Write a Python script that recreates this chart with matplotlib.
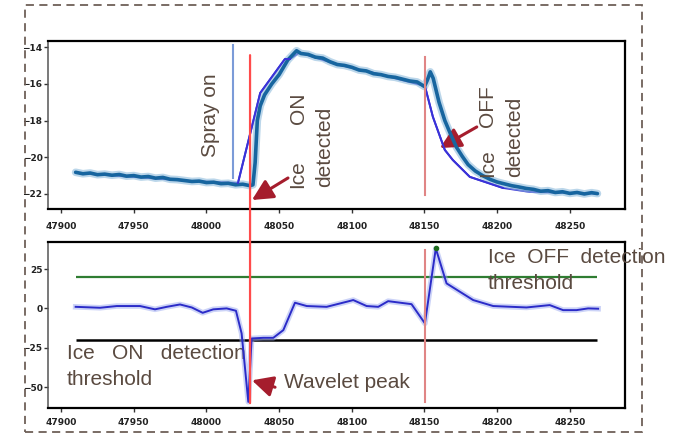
import matplotlib
matplotlib.use("Agg")
import matplotlib.pyplot as plt
from matplotlib.patches import Rectangle, ConnectionPatch

# raw temperature trace (top panel)
temp_t = [47910, 47915, 47920, 47925, 47930, 47935, 47940, 47945, 47950, 47955,
          47960, 47965, 47970, 47975, 47980, 47985, 47990, 47995, 48000, 48005,
          48010, 48015, 48020, 48025, 48030, 48032, 48033.5, 48035, 48037, 48040,
          48045, 48050, 48053, 48056, 48059, 48062, 48065, 48070, 48075, 48080,
          48085, 48090, 48095, 48100, 48105, 48110, 48115, 48120, 48125, 48130,
          48135, 48140, 48145, 48150, 48152, 48154, 48156, 48160, 48164, 48168,
          48172, 48176, 48180, 48185, 48190, 48195, 48200, 48205, 48210, 48215,
          48220, 48225, 48230, 48235, 48240, 48245, 48250, 48255, 48260, 48265, 48269]
temp_v = [-20.82, -20.90, -20.86, -20.95, -20.92, -20.98, -20.94, -21.03, -21.00, -21.08,
          -21.05, -21.14, -21.10, -21.20, -21.22, -21.27, -21.32, -21.30, -21.38, -21.36,
          -21.44, -21.42, -21.50, -21.47, -21.55, -21.50, -20.3, -18.0, -17.2, -16.6,
          -16.0, -15.5, -15.1, -14.7, -14.45, -14.2, -14.35, -14.4, -14.55, -14.6,
          -14.8, -14.95, -15.0, -15.1, -15.25, -15.3, -15.45, -15.5, -15.6, -15.65,
          -15.75, -15.85, -15.9, -16.15, -15.8, -15.35, -15.7, -17.0, -18.0, -18.75,
          -19.45, -19.95, -20.4, -20.75, -21.0, -21.2, -21.35, -21.45, -21.55, -21.62,
          -21.7, -21.75, -21.85, -21.82, -21.92, -21.88, -21.97, -21.92, -22.0, -21.93, -21.98]

# piecewise model fit
model_t = [47910, 47990, 48021.7, 48037, 48054, 48057.5, 48064, 48090, 48115,
           48150.3, 48155.8, 48164, 48169.5, 48181.2, 48203.9, 48222.5, 48269]
model_v = [-20.85, -21.3, -21.4, -16.5, -14.65, -14.65, -14.3, -14.95, -15.4,
           -16.12, -17.8, -19.6, -20.15, -21.07, -21.67, -21.89, -21.98]

# wavelet coefficient (bottom panel)
wav_t = [47910, 47926.8, 47938.3, 47954.3, 47964.6, 47972.7, 47981.8, 47989.9, 47997.4,
         48004.7, 48013.9, 48020.3, 48024.2, 48028.8, 48031.1, 48039.1, 48046, 48052.9,
         48060.9, 48069, 48082.7, 48096.4, 48101, 48110.2, 48118.2, 48125, 48141.1,
         48150.3, 48157.8, 48165.2, 48183.5, 48197.3, 48220.2, 48236.2, 48245.4,
         48254.6, 48262.6, 48269.5]
wav_v = [1.0, 0.4, 1.5, 1.5, -0.6, 1.0, 2.5, 0.6, -2.8,
         -0.6, 0.0, -1.5, -15.9, -59.4, -19.1, -18.7, -18.7, -13.8,
         3.6, 1.5, 1.0, 4.2, 5.3, 1.5, 1.0, 4.6, 2.7,
         -9.5, 38.1, 15.9, 5.3, 1.5, 0.6, 2.1, -1.1,
         -1.1, 0.0, -0.2]

thr_on = -20
thr_off = 20
thr_span = (47910, 48269)
spray_on_t = 48018.3
ice_on_t = 48030
ice_off_t = 48150.6

xticks = [47900, 47950, 48000, 48050, 48100, 48150, 48200, 48250]
yticks_top = [-14, -16, -18, -20, -22]
yticks_bot = [25, 0, -25, -50]

TXT = "#5a4a40"
ARR = "#a51d2d"
FONT = ["Liberation Sans", "DejaVu Sans"]
TICKFONT = ["Liberation Sans Narrow", "DejaVu Sans"]

fig = plt.figure(figsize=(6.87, 4.34), dpi=100)
ax1 = fig.add_axes([0.0699, 0.5184, 0.8399, 0.3871])
ax2 = fig.add_axes([0.0699, 0.0599, 0.8399, 0.3825])

for ax in (ax1, ax2):
    ax.set_xlim(47891, 48288)
    ax.set_xticks(xticks)
    for s in ax.spines.values():
        s.set_linewidth(1.6)
        s.set_color("black")
    ax.spines["left"].set_linewidth(1.1)
    ax.spines["left"].set_color("#555555")
    ax.tick_params(length=3, width=1, colors="#333333", labelsize=6.5, pad=1)
    for lab in ax.get_xticklabels():
        lab.set_family(TICKFONT)
        lab.set_fontweight("bold")
        lab.set_color("#222222")

ax1.tick_params(axis="x", pad=6)
ax2.tick_params(axis="x", pad=4)


def minus_labels(vals):
    return [str(v) if v >= 0 else "\u2212" + str(abs(v)) for v in vals]


# top panel
ax1.set_ylim(-22.82, -13.67)
ax1.set_yticks(yticks_top)
ax1.set_yticklabels(minus_labels(yticks_top), family=TICKFONT,
                    fontweight="bold", fontsize=6.5, color="#222222")
ax1.plot(model_t, model_v, color="#3a32d8", lw=1.4, zorder=2)
ax1.plot(temp_t, temp_v, color="#8fbcdc", lw=5.5, alpha=0.6, zorder=3, solid_capstyle="round")
ax1.plot(temp_t, temp_v, color="#17659f", lw=2.6, zorder=4, solid_capstyle="round")
ax1.plot(model_t[2:6], model_v[2:6], color="#3a32d8", lw=1.4, zorder=5)
ax1.plot(model_t[9:15], model_v[9:15], color="#3a32d8", lw=1.4, zorder=5)
ax1.plot([spray_on_t, spray_on_t], [-13.9, -21.13], color="#7b9bd8", lw=1.5, zorder=6)
ax1.plot([ice_off_t, ice_off_t], [-14.54, -22.05], color="#e08585", lw=1.5, zorder=6)

ax1.text(48002.5, -19.99, "Spray on", rotation=90, ha="center", va="bottom",
         fontsize=15, color=TXT, family=FONT)
ax1.text(48063, -21.67, "Ice", rotation=90, ha="center", va="bottom",
         fontsize=15, color=TXT, family=FONT)
ax1.text(48063, -16.5, "ON", rotation=90, ha="center", va="top",
         fontsize=15, color=TXT, family=FONT)
ax1.text(48081.5, -21.62, "detected", rotation=90, ha="center", va="bottom",
         fontsize=15, color=TXT, family=FONT)
ax1.text(48193.6, -21.07, "Ice", rotation=90, ha="center", va="bottom",
         fontsize=15, color=TXT, family=FONT, zorder=7)
ax1.text(48193.6, -16.07, "OFF", rotation=90, ha="center", va="top",
         fontsize=15, color=TXT, family=FONT)
ax1.text(48212.2, -21.07, "detected", rotation=90, ha="center", va="bottom",
         fontsize=15, color=TXT, family=FONT)

arrow_kw = dict(arrowstyle="-|>,head_length=0.9,head_width=0.45", color=ARR, lw=2.2,
                mutation_scale=14, shrinkA=0, shrinkB=0)
ax1.annotate("", xy=(48031.3, -22.33), xytext=(48056.1, -21.13), arrowprops=arrow_kw)
ax1.annotate("", xy=(48160.6, -19.5), xytext=(48186, -18.35), arrowprops=arrow_kw)

# bottom panel
ax2.set_ylim(-63.3, 42.2)
ax2.set_yticks(yticks_bot)
ax2.set_yticklabels(minus_labels(yticks_bot), family=TICKFONT,
                    fontweight="bold", fontsize=6.5, color="#222222")
ax2.hlines(thr_off, *thr_span, color="#2f7d32", lw=1.6, zorder=2)
ax2.hlines(thr_on, *thr_span, color="black", lw=1.8, zorder=2)
ax2.plot(wav_t, wav_v, color="#9aa8f0", lw=4, alpha=0.5, zorder=3)
ax2.plot(wav_t, wav_v, color="#2b2bc8", lw=1.4, zorder=4)
ax2.plot([ice_off_t, ice_off_t], [37.1, -59.6], color="#e08585", lw=1.5, zorder=5)
peak_i = wav_v.index(max(wav_v))
ax2.plot(wav_t[peak_i], wav_v[peak_i], "o", color="#1d6b1d", ms=3, zorder=6)

ax2.text(47904.1, -32.4, "Ice   ON   detection", ha="left", va="baseline",
         fontsize=15, color=TXT, family=FONT)
ax2.text(47904.1, -48.8, "threshold", ha="left", va="baseline",
         fontsize=15, color=TXT, family=FONT)
ax2.text(48053.3, -50.8, "Wavelet peak", ha="left", va="baseline",
         fontsize=15, color=TXT, family=FONT)
ax2.text(48193.6, 28.6, "Ice  OFF  detection", ha="left", va="baseline",
         fontsize=15, color=TXT, family=FONT)
ax2.text(48193.6, 12.1, "threshold", ha="left", va="baseline",
         fontsize=15, color=TXT, family=FONT)
ax2.annotate("", xy=(48031.3, -45.7), xytext=(48047.2, -50.1), arrowprops=arrow_kw)

# ice-on marker spans both panels
con = ConnectionPatch(xyA=(ice_on_t, -14.44), coordsA="data", axesA=ax1,
                      xyB=(ice_on_t, -60.2), coordsB="data", axesB=ax2,
                      color="#ff4b4b", lw=1.6, zorder=10)
fig.add_artist(con)

# dashed outer frame
frame = Rectangle((25 / 687, 1 - 432 / 434), 617 / 687, 427 / 434,
                  transform=fig.transFigure, fill=False, edgecolor="#6e6058",
                  lw=1.3, linestyle=(0, (4.5, 3)))
fig.add_artist(frame)

fig.savefig("out.png", dpi=100)
